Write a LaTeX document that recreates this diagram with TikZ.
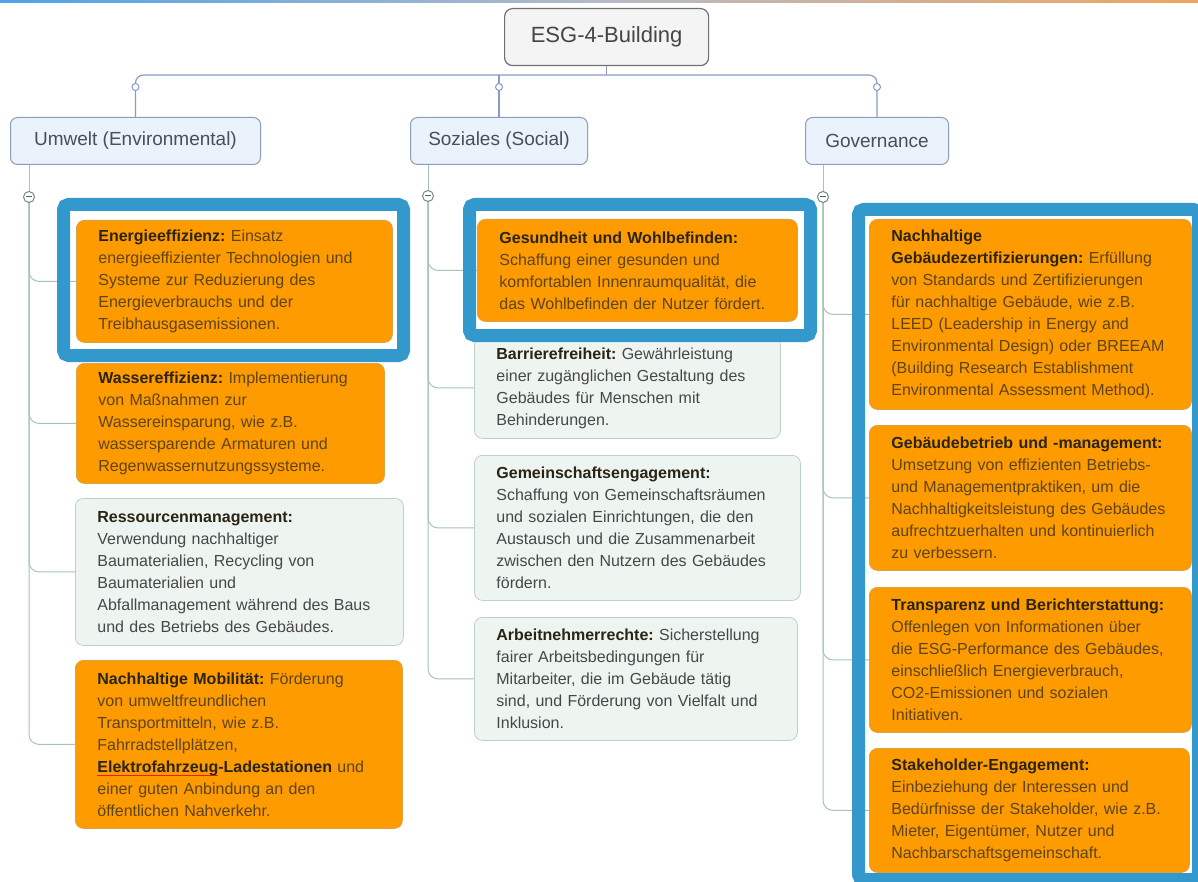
\documentclass[tikz,border=0pt]{standalone}
\usepackage{fontspec}
\setmainfont{Liberation Sans}
\usetikzlibrary{calc}
\frenchspacing

\definecolor{rootfill}{HTML}{F4F4F4}
\definecolor{rootline}{HTML}{707070}
\definecolor{roottext}{HTML}{454545}
\definecolor{topicfill}{HTML}{EAF2FC}
\definecolor{topicline}{HTML}{8C9DB8}
\definecolor{topictext}{HTML}{4A4D5A}
\definecolor{orangefill}{HTML}{FD9B00}
\definecolor{orangeline}{HTML}{D9A441}
\definecolor{orangetext}{HTML}{5E4416}
\definecolor{mintfill}{HTML}{EEF5F1}
\definecolor{mintline}{HTML}{BBD2C6}
\definecolor{minttext}{HTML}{474747}
\definecolor{headtext}{HTML}{2A2414}
\definecolor{busline}{HTML}{8A9CC2}
\definecolor{branchline}{HTML}{A6C3B6}
\definecolor{framblue}{HTML}{3399CC}
\definecolor{topblue}{HTML}{4FA3E8}
\definecolor{topgray}{HTML}{B4BAC6}
\definecolor{toporange}{HTML}{F0A560}
\definecolor{spellred}{HTML}{E8201C}

% bold lead-in of every leaf
\newcommand\head[1]{{\bfseries\color{headtext}#1}}
% red spell-check line
\newsavebox\spellbox
\newcommand\spellmark[1]{\leavevmode\sbox\spellbox{#1}\rlap{\color{spellred}\rule[-0.5ex]{\wd\spellbox}{1.3pt}}\usebox\spellbox}

\tikzset{
  rootbox/.style={draw=rootline, fill=rootfill, rounded corners=8pt, line width=1.2pt,
    minimum width=204pt, minimum height=57pt, anchor=north west, text=roottext,
    font=\fontsize{22}{26}\selectfont},
  topicbox/.style={draw=topicline, fill=topicfill, rounded corners=7pt, line width=1pt,
    minimum height=47pt, anchor=north west, text=topictext,
    font=\fontsize{19}{23}\selectfont},
  leafbox/.style={rounded corners=8pt, line width=0.8pt, anchor=north west, align=left,
    inner xsep=22pt, inner ysep=0pt, font=\fontsize{16}{22}\selectfont},
  orangebox/.style={leafbox, draw=orangeline, fill=orangefill, text=orangetext},
  mintbox/.style={leafbox, draw=mintline, fill=mintfill, text=minttext},
  bus/.style={draw=busline, line width=1.2pt, rounded corners=8pt},
  branch/.style={draw=branchline, line width=1pt, rounded corners=10pt},
  busknob/.style={circle, draw=busline, fill=white, line width=1pt, inner sep=0pt, minimum size=7pt},
  foldknob/.style={circle, draw=branchline!70!black, fill=white, line width=1pt, inner sep=0pt,
    minimum size=11pt, path picture={
      \draw[branchline!50!black, line width=1pt]
        ($(path picture bounding box.west)+(2.5,0)$) -- ($(path picture bounding box.east)+(-2.5,0)$);}},
  highlight/.style={draw=framblue, line width=13pt, rounded corners=5pt},
}

\begin{document}
\begin{tikzpicture}[x=1pt, y=-1pt]
\useasboundingbox (0,0) rectangle (1198,882);
\clip (0,0) rectangle (1198,882);
\fill[white] (0,0) rectangle (1198,882);
\shade[left color=topblue, right color=toporange, middle color=topgray] (0,0) rectangle (1198,3);

% root and main topics
\node[rootbox] (root) at (504,8) {ESG-4-Building};
\node[topicbox, minimum width=250pt] (env) at (10,117) {Umwelt (Environmental)};
\node[topicbox, minimum width=177pt] (soc) at (410,117) {Soziales (Social)};
\node[topicbox, minimum width=143pt] (gov) at (805,117) {Governance};

\coordinate (bus) at (606,75);
\draw[bus] (env.north) |- (bus) -| (gov.north);
\draw[bus] (root.south) -- (root.south |- bus);
\draw[bus] (soc.north) -- (soc.north |- bus);
\node[busknob] (envknob) at (env.north |- 0,87) {};
\node[busknob] (socknob) at (soc.north |- 0,87) {};
\node[busknob] (govknob) at (gov.north |- 0,87) {};

% Umwelt
\node[orangebox, text width=272pt, minimum height=122pt] (energy) at (76,220)
  {\head{Energieeffizienz:} Einsatz\\ energieeffizienter Technologien und\\ Systeme zur Reduzierung des\\ Energieverbrauchs und der\\ Treibhausgasemissionen.};
\node[orangebox, text width=264pt, minimum height=120pt] (water) at (76,363)
  {\head{Wassereffizienz:} Implementierung\\ von Maßnahmen zur\\ Wassereinsparung, wie z.B.\\ wassersparende Armaturen und\\ Regenwassernutzungssysteme.};
\node[mintbox, text width=284pt, minimum height=147pt] (resource) at (75,498)
  {\head{Ressourcenmanagement:}\\ Verwendung nachhaltiger\\ Baumaterialien, Recycling von\\ Baumaterialien und\\ Abfallmanagement während des Baus\\ und des Betriebs des Gebäudes.};
\node[orangebox, text width=283pt, minimum height=168pt] (mobility) at (75,660)
  {\head{Nachhaltige Mobilität:} Förderung\\ von umweltfreundlichen\\ Transportmitteln, wie z.B.\\ Fahrradstellplätzen,\\ \head{\spellmark{Elektrofahrzeug}-Ladestationen} und\\ einer guten Anbindung an den\\ öffentlichen Nahverkehr.};

% Soziales
\node[orangebox, text width=276pt, minimum height=102pt] (health) at (477,219)
  {\head{Gesundheit und Wohlbefinden:}\\ Schaffung einer gesunden und\\ komfortablen Innenraumqualität, die\\ das Wohlbefinden der Nutzer fördert.};
\node[mintbox, text width=262pt, minimum height=101pt] (access) at (474,337)
  {\head{Barrierefreiheit:} Gewährleistung\\ einer zugänglichen Gestaltung des\\ Gebäudes für Menschen mit\\ Behinderungen.};
\node[mintbox, text width=282pt, minimum height=145pt] (community) at (474,455)
  {\head{Gemeinschaftsengagement:}\\ Schaffung von Gemeinschaftsräumen\\ und sozialen Einrichtungen, die den\\ Austausch und die Zusammenarbeit\\ zwischen den Nutzern des Gebäudes\\ fördern.};
\node[mintbox, text width=279pt, minimum height=123pt] (rights) at (474,617)
  {\head{Arbeitnehmerrechte:} Sicherstellung\\ fairer Arbeitsbedingungen für\\ Mitarbeiter, die im Gebäude tätig\\ sind, und Förderung von Vielfalt und\\ Inklusion.};

% Governance
\node[orangebox, text width=278pt, minimum height=190pt] (cert) at (869,219)
  {\head{Nachhaltige}\\ \head{Gebäudezertifizierungen:} Erfüllung\\ von Standards und Zertifizierungen\\ für nachhaltige Gebäude, wie z.B.\\ LEED (Leadership in Energy and\\ Environmental Design) oder BREEAM\\ (Building Research Establishment\\ Environmental Assessment Method).};
\node[orangebox, text width=278pt, minimum height=145pt] (operation) at (869,425)
  {\head{Gebäudebetrieb und -management:}\\ Umsetzung von effizienten Betriebs-\\ und Managementpraktiken, um die\\ Nachhaltigkeitsleistung des Gebäudes\\ aufrechtzuerhalten und kontinuierlich\\ zu verbessern.};
\node[orangebox, text width=278pt, minimum height=145pt] (report) at (869,587)
  {\head{Transparenz und Berichterstattung:}\\ Offenlegen von Informationen über\\ die ESG-Performance des Gebäudes,\\ einschließlich Energieverbrauch,\\ CO2-Emissionen und sozialen\\ Initiativen.};
\node[orangebox, text width=276pt, minimum height=124pt] (stake) at (869,748)
  {\head{Stakeholder-Engagement:}\\ Einbeziehung der Interessen und\\ Bedürfnisse der Stakeholder, wie z.B.\\ Mieter, Eigentümer, Nutzer und\\ Nachbarschaftsgemeinschaft.};

% branches
\coordinate (envfold) at (29,197);
\coordinate (socfold) at (428,196);
\coordinate (govfold) at (823,197);
\draw[branch] (envfold |- env.south) -- (envfold);
\draw[branch] (socfold |- soc.south) -- (socfold);
\draw[branch] (govfold |- gov.south) -- (govfold);
\foreach \leaf in {energy,water,resource,mobility}
  \draw[branch] (envfold) |- (\leaf.west);
\foreach \leaf in {health,access,community,rights}
  \draw[branch] (socfold) |- (\leaf.west);
\foreach \leaf in {cert,operation,report,stake}
  \draw[branch] (govfold) |- (\leaf.west);
\node[foldknob] (envknobb) at (envfold) {};
\node[foldknob] (socknobb) at (socfold) {};
\node[foldknob] (govknobb) at (govfold) {};

% blue highlight frames
\draw[highlight] (63.5,204.5) rectangle (403.5,355.5);
\draw[highlight] (469.5,204.5) rectangle (810.5,335.5);
\draw[highlight] (858.5,209.5) rectangle (1198.5,879.5);
\end{tikzpicture}
\end{document}
